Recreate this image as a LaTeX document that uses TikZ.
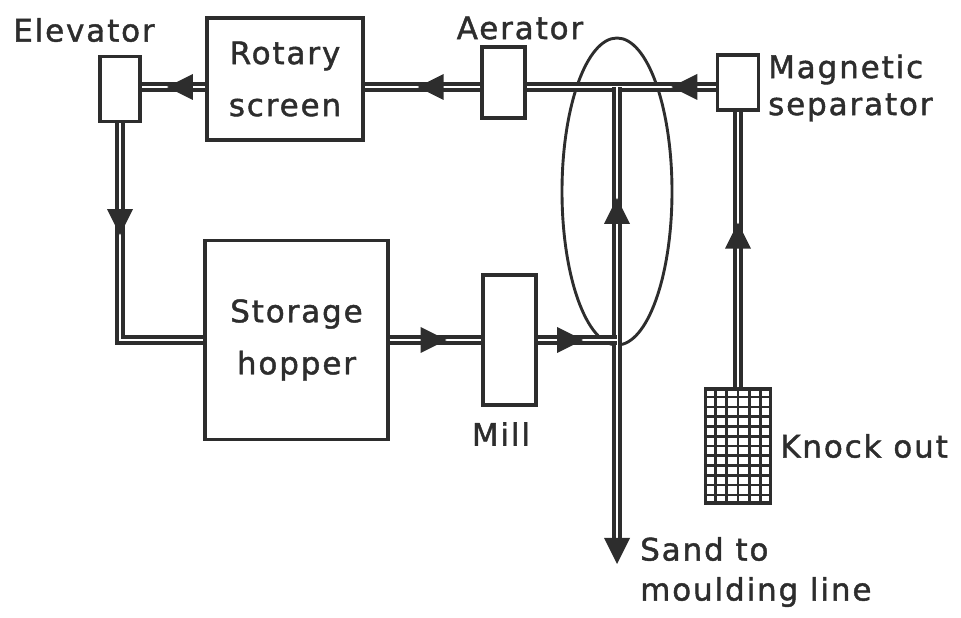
\documentclass[tikz,border=0pt]{standalone}
\usepackage{fontspec}
\setmainfont{DejaVu Sans}[LetterSpace=6,FakeBold=1.4]
\usepackage{tikz}
\usetikzlibrary{calc,decorations.markings}
\definecolor{ink}{RGB}{45,45,45}
\newcommand{\tagfont}{\fontsize{31}{37}\selectfont}
\newcommand{\boxfont}{\fontsize{31}{52}\selectfont}
\tikzset{
  unitbox/.style={
    draw=ink,line width=3.3pt,inner sep=0pt,align=center,
    text=ink,font=\boxfont
  },
  tag/.style={text=ink,inner sep=0pt,align=left,font=\tagfont},
  pipe/.style={draw=ink,line width=3.4pt,double=white,double distance=2.6pt},
  flowarrow/.style={postaction={decorate,decoration={markings,
    mark=at position #1 with {\fill[ink] (13pt,0)--(-13pt,13pt)--(-13pt,-13pt)--cycle;}}}},
  endarrow/.style={postaction={decorate,decoration={markings,
    mark=at position 1 with {\fill[ink] (26pt,0)--(0pt,13pt)--(0pt,-13pt)--cycle;}}}},
  gridline/.style={draw=ink,line width=2.7pt}
}

\begin{document}
\begin{tikzpicture}[x=1pt,y=1pt]
  \useasboundingbox (0,0) rectangle (961,618);
  % plant units
  \node[unitbox,minimum width=40pt,minimum height=65pt] (elev) at (120,529) {};
  \node[unitbox,minimum width=156pt,minimum height=122pt] (rot) at (285,539) {Rotary\\screen};
  \node[unitbox,minimum width=43pt,minimum height=71pt] (aer) at (503.5,535.5) {};
  \node[unitbox,minimum width=41pt,minimum height=55pt] (mag) at (738,535.5) {};
  \node[unitbox,minimum width=183pt,minimum height=199pt] (hop) at (296.5,278) {Storage\\hopper};
  \node[unitbox,minimum width=53pt,minimum height=130pt] (mill) at (509.5,278) {};
  \node[unitbox,minimum width=65pt,minimum height=114pt] (knock) at (738,172) {};
  \foreach \i in {1,...,5}
    \draw[gridline] ($(knock.north west)!\i/6!(knock.north east)$) -- ($(knock.south west)!\i/6!(knock.south east)$);
  \foreach \i in {1,...,11}
    \draw[gridline] ($(knock.north west)!\i/12!(knock.south west)$) -- ($(knock.north east)!\i/12!(knock.south east)$);
  \draw[ink,line width=2.9pt] (617,426.5) ellipse [x radius=55pt,y radius=153.5pt];
  % labels
  \node[tag] (elevlbl) at (84,588) {Elevator};
  \node[tag] (aerlbl) at (520,590) {Aerator};
  \node[tag,anchor=west] (maglbl) at (768,530) {Magnetic\\separator};
  \node[tag] (milllbl) at (501,184) {Mill};
  \node[tag,anchor=west] (knocklbl) at (780,172) {Knock out};
  \node[tag,anchor=west] (sandlbl) at (640,46) {Sand to\\[3pt]moulding line};
  % pipe runs
  \coordinate (top) at (0,531);
  \coordinate (tee) at (617,278);
  \coordinate (sandend) at (617,80);
  \draw[pipe,flowarrow=0.4] (rot.west |- top) -- (elev.east |- top);
  \draw[pipe,flowarrow=0.43] (aer.west |- top) -- (rot.east |- top);
  \draw[pipe,flowarrow=0.167] (mag.west |- top) -- (aer.east |- top);
  \draw[pipe,flowarrow=0.33] (elev.south) |- (hop.west);
  \draw[pipe,flowarrow=0.48] (hop.east) -- (mill.west);
  \draw[pipe,flowarrow=0.55] (knock.north) -- (mag.south);
  \draw[pipe,flowarrow=0.51] (tee) -- (tee |- top);
  \draw[pipe,endarrow] (tee) -- (sandend);
  \draw[pipe,flowarrow=0.41] (mill.east) -- (tee);
\end{tikzpicture}
\end{document}
